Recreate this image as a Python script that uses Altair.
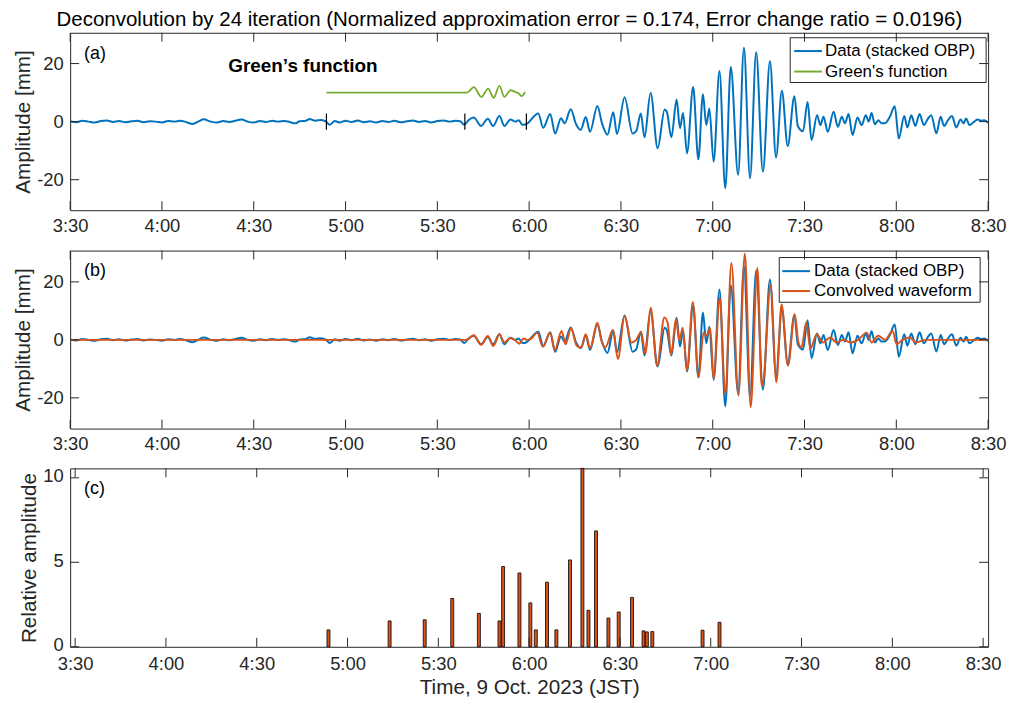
import altair as alt
import pandas as pd

FONT = "Liberation Sans"
BLUE = "#0072BD"
ORANGE = "#D95319"
GREEN = "#77AC30"
INK = "#262626"

# time axis: minutes after midnight, 9 Oct. 2023 (JST)
x_ticks = [210, 240, 270, 300, 330, 360, 390, 420, 450, 480, 510]
amp_ticks = [-20, 0, 20]
rel_ticks = [0, 5, 10]

# Data (stacked OBP), amplitude in mm
data_t = [210, 212, 214, 216, 218, 220, 222, 224, 226, 228, 230, 232, 234, 236, 238, 240,
          242, 244, 246, 248, 250, 252, 253.6, 256, 258, 260, 262, 264, 266, 268, 270, 272,
          274, 276, 278, 280, 282, 283.5, 285, 287, 288.3, 290, 292, 293.7, 294.8, 296.5,
          298, 300, 302, 304, 306, 308, 310, 312, 314, 316, 318, 320, 322, 324, 326, 328,
          330, 332, 334, 336, 337.5, 338.8,
          340.2, 341.9, 344.3, 346.5, 348.2, 350.3, 351.9, 353.9, 355.5, 356.6, 357.8, 359.0,
          363.0, 364.6, 366.9, 368.5, 370.4, 371.6, 373.6, 375.3, 376.9, 378.5, 379.9, 382.3,
          383.8, 385.6, 387.5, 388.7, 391.2, 393.8, 395.0, 396.5, 397.7, 399.7, 402.0, 404.3,
          405.0, 406.5, 408.2, 409.3, 410.3, 411.6, 413.6, 415.3, 416.8, 417.9, 418.9, 420.3,
          422.2, 424.1, 425.9, 428.3, 430.2, 432.2, 434.2, 436.4, 438.7, 440.7, 442.6, 444.5,
          446.7, 447.8, 449.5, 451.0, 452.3, 454.1, 455.2, 456.2, 457.6, 459.5, 460.9, 462.2,
          463.2, 464.4, 465.7, 467.3, 468.7, 470.0, 471.0, 471.9, 473.0, 474.1, 475.2, 476.2,
          477.9, 479.5, 480.8, 482.6, 483.6, 484.9, 486.2, 487.6, 489.0, 490.4, 491.4, 493.1,
          494.5, 495.6, 496.9, 498.2, 499.6, 501.0, 502.0, 502.8, 503.9, 505.5, 506.6, 507.7,
          508.8, 510.0]
data_v = [0.1, -0.2, 0.3, 0.0, -0.3, 0.2, 0.4, -0.1, 0.2, -0.2, 0.1, 0.3, -0.2, 0.1, 0.0, -0.3,
          0.2, 0.0, 0.3, -0.2, -0.8, 0.1, 0.8, 0.0, -0.3, 0.2, -0.1, 0.3, 0.7, 0.0, -0.3, 0.2,
          -0.1, 0.3, 0.0, 0.2, -0.2, -0.6, 0.1, 0.3, 0.9, 0.3, 0.6, 0.0, -1.1, 0.2,
          -0.3, 0.3, -0.1, 0.4, -0.2, 0.1, -0.3, 0.2, -0.1, 0.3, -0.2, 0.1, 0.4, -0.1, 0.2, -0.3,
          0.2, 0.4, 0.0, 0.3, 0.1, -1.1,
          0.5, 1.4, -1.5, 1.0, -1.5, 1.9, -1.5, 0.7, 0.0, 0.5, -1.1, -0.9,
          2.8, -2.1, 2.6, -4.1, 1.2, -0.6, 4.3, -0.8, -2.8, 1.6, -3.5, 5.4,
          -0.5, -4.5, 3.2, -4.3, 8.4, -4.1, -3.3, 2.8, -5.4, 9.9, -9.2, 4.2,
          3.4, -5.4, 7.6, -2.3, 3.0, -10.9, 11.9, -13.0, 9.4, -1.2, 4.5, -13.8,
          17.4, -22.9, 18.8, -18.3, 25.4, -19.5, 23.9, -17.2, 20.8, -12.3, 10.6, -8.4,
          8.7, -1.5, -3.3, 6.8, -6.3, 2.2, -1.2, 1.7, -3.5, 3.4, -1.8, 1.7,
          -0.6, 2.6, -4.6, 1.4, -1.2, 2.2, 0.0, 3.0, -0.9, 0.5, -0.6, -0.6,
          1.7, 5.3, -5.8, 1.9, -2.0, 2.2, -1.5, 2.6, -1.2, 1.1, 2.2, -4.0,
          1.7, -1.5, 0.5, 1.9, -2.0, 0.7, -0.6, 1.1, -1.2, 0.0, 0.7, 0.3,
          0.5, -0.4]

# Green's function (drawn with a +10 mm offset)
green_t = [293.75, 339.5, 340.3, 341.9, 344.4, 346.6, 348.4, 350.3, 351.9, 353.9, 355.5,
           356.6, 357.5, 358.7]
green_v = [10.0, 10.0, 10.4, 11.9, 8.5, 11.4, 8.2, 12.3, 8.5, 10.8, 10.2, 9.7, 8.8, 10.2]

# markers on the data trace in panel (a)
marker_t = [293.75, 339.0, 359.1]

# Convolved waveform
conv_t = [210, 339.3, 340.0, 341.9, 344.3, 346.5, 348.3, 350.3, 351.9, 353.7, 355.3, 356.8,
          358.2, 359.3, 360.9, 362.6, 364.5, 366.9, 368.4, 370.6, 371.9, 373.7, 375.6, 377.1,
          378.5, 379.9, 382.3, 383.6, 384.9, 387.4, 389.0, 391.2, 393.4, 395.0, 396.6, 398.0,
          399.7, 401.8, 404.2, 405.3, 406.4, 408.0, 409.1, 410.2, 411.6, 413.5, 415.4, 417.0,
          417.9, 419.2, 420.3, 422.3, 424.1, 426.1, 428.4, 430.5, 432.4, 434.6, 436.0, 436.7,
          438.9, 440.8, 442.5, 444.6, 446.8, 448.0, 449.0, 450.6, 451.9, 454.0, 456.0, 458.4,
          460.5, 462.7, 465.0, 467.7, 470.3, 471.9, 474.1, 476.3, 478.8, 480.1, 482.0, 484.4,
          486.5, 489.5, 510]
conv_v = [0.0, 0.0, 0.2, 1.6, -1.7, 1.3, -2.1, 1.9, -0.9, 0.6, 0.0, -1.3,
          0.5, 0.0, 0.6, 2.5, -2.4, 2.5, -3.6, 3.1, -1.5, 4.0, -2.1, -2.6,
          1.9, -2.9, 5.9, -0.2, -2.6, 3.4, -6.6, 8.2, -0.9, 0.0, 2.7, -4.9,
          11.1, -8.9, 7.7, 5.7, -5.1, 7.1, -0.3, 4.2, -10.6, 13.1, -12.9, 2.5,
          1.4, 4.0, -13.5, 14.5, -18.6, 26.5, -19.2, 29.8, -23.2, 24.8, -15.8, -13.0,
          19.1, -14.6, 12.2, -8.9, 8.8, -0.9, -2.6, 6.1, -3.0, 1.9, -0.9, 0.8,
          -0.9, 0.0, -0.9, 0.2, 2.5, -0.9, 1.4, 0.0, 3.1, -1.5, 0.0, 0.8,
          -0.9, 0.0, 0.0]

# Deconvolved source time function (relative amplitude)
stem_t = [293.7, 313.9, 325.5, 334.6, 343.4, 350.2, 351.4, 356.8, 360.4, 362.2, 365.9, 369.0,
          373.5, 377.6, 379.6, 382.1, 386.2, 389.6, 394.0, 397.8, 398.9, 400.7, 417.3, 422.9]
stem_v = [1.0, 1.53, 1.6, 2.86, 1.98, 1.53, 4.75, 4.37, 2.6, 1.0, 3.82, 1.0,
          5.14, 10.56, 2.16, 6.86, 1.7, 2.06, 2.92, 0.94, 0.88, 0.9, 0.98, 1.45]

legend_a_labels = ["Data (stacked OBP)", "Green's function"]
legend_a_colors = [BLUE, GREEN]
legend_b_labels = ["Data (stacked OBP)", "Convolved waveform"]
legend_b_colors = [BLUE, ORANGE]

W = 923
HA, HB, HC = 178.4, 179, 179.4
TL = 9  # inside tick length
LAB = 18.5
TIT = 20.8

LABEL_EXPR = "floor(datum.value / 60) + ':' + (datum.value % 60 < 10 ? '0' : '') + (datum.value % 60)"
YLABEL_EXPR = "(datum.value < 0 ? '-' : '') + abs(datum.value)"
ONE = pd.DataFrame({"k": [0]})


def xenc(title=None, pad=6, tpad=6):
    return alt.X("t:Q", scale=alt.Scale(domain=[210, 510], nice=False, zero=False),
                 axis=alt.Axis(values=x_ticks, labelExpr=LABEL_EXPR, ticks=False, tickSize=0,
                               domain=False, grid=False, labelFlush=False, labelOverlap=False,
                               labelPadding=pad, title=title, titlePadding=tpad))


def yenc(domain, ticks, title, loff=0):
    return alt.Y("v:Q", scale=alt.Scale(domain=domain, nice=False, zero=False),
                 axis=alt.Axis(values=ticks, labelExpr=YLABEL_EXPR, ticks=False, tickSize=0,
                               domain=False, grid=False, labelPadding=7, title=title,
                               titlePadding=3, labelOffset=loff))


def tick_layers(X, Y, yticks, H):
    xt = pd.DataFrame({"t": x_ticks})
    yt = pd.DataFrame({"v": yticks})
    r = dict(color=INK, strokeWidth=1)
    return [
        alt.Chart(xt).mark_rule(**r).encode(x=X, y=alt.value(H), y2=alt.value(H - TL)),
        alt.Chart(xt).mark_rule(**r).encode(x=X, y=alt.value(0), y2=alt.value(TL)),
        alt.Chart(yt).mark_rule(**r).encode(y=Y, x=alt.value(0), x2=alt.value(TL)),
        alt.Chart(yt).mark_rule(**r).encode(y=Y, x=alt.value(W - TL), x2=alt.value(W)),
    ]


def panel_label(txt):
    return alt.Chart(pd.DataFrame({"s": [txt]})).mark_text(
        align="left", baseline="middle", fontSize=18, font=FONT, color="black"
    ).encode(x=alt.value(14), y=alt.value(21), text="s:N")


def legend_layers(labels, colors, box, line_x, text_x, rows):
    x0, x1, y0, y1 = box
    layers = [alt.Chart(ONE).mark_rect(fill="white", stroke=INK, strokeWidth=1).encode(
        x=alt.value(x0), x2=alt.value(x1), y=alt.value(y0), y2=alt.value(y1))]
    for lab, col, ry in zip(labels, colors, rows):
        layers.append(alt.Chart(ONE).mark_rule(color=col, strokeWidth=2).encode(
            x=alt.value(line_x[0]), x2=alt.value(line_x[1]), y=alt.value(ry)))
        layers.append(alt.Chart(pd.DataFrame({"s": [lab]})).mark_text(
            align="left", baseline="middle", fontSize=17, font=FONT, color="black").encode(
            x=alt.value(text_x), y=alt.value(ry), text="s:N"))
    return layers


df_data = pd.DataFrame({"t": data_t, "v": data_v})
df_green = pd.DataFrame({"t": green_t, "v": green_v})
df_conv = pd.DataFrame({"t": conv_t, "v": conv_v})
df_mark = pd.DataFrame({"t": marker_t})
df_stem = pd.DataFrame({"t": stem_t, "v": stem_v})

# ---- panel (a)
Xa = xenc()
Ya = yenc([-30.5, 30.6], amp_ticks, "Amplitude [mm]")
pa = alt.layer(
    alt.Chart(df_data).mark_line(color=BLUE, strokeWidth=2, interpolate="monotone", clip=True).encode(
        x=Xa, y=Ya),
    alt.Chart(df_green).mark_line(color=GREEN, strokeWidth=1.8, interpolate="monotone", clip=True).encode(
        x=Xa, y=Ya),
    alt.Chart(df_mark).mark_rule(color="black", strokeWidth=1.2).encode(
        x=Xa, y=alt.datum(-2.8), y2=alt.datum(2.8)),
    panel_label("(a)"),
    alt.Chart(pd.DataFrame({"s": ["Green’s function"]})).mark_text(
        align="left", baseline="middle", fontSize=19, fontWeight="bold", font=FONT,
        color="black").encode(x=alt.value(159), y=alt.value(33), text="s:N"),
    *legend_layers(legend_a_labels, legend_a_colors, (724, 921, 5, 50), (728, 756), 759, (18.4, 39)),
    *tick_layers(Xa, Ya, amp_ticks, HA),
).properties(width=W, height=HA)

# ---- panel (b)
Xb = xenc()
Yb = yenc([-30.6, 30.8], amp_ticks, "Amplitude [mm]")
pb = alt.layer(
    alt.Chart(df_data).mark_line(color=BLUE, strokeWidth=2, interpolate="monotone", clip=True).encode(
        x=Xb, y=Yb),
    alt.Chart(df_conv).mark_line(color=ORANGE, strokeWidth=2, interpolate="monotone", clip=True).encode(
        x=Xb, y=Yb),
    panel_label("(b)"),
    *legend_layers(legend_b_labels, legend_b_colors, (713, 915, 7, 52), (716, 744), 748, (20.7, 40.7)),
    *tick_layers(Xb, Yb, amp_ticks, HB),
).properties(width=W, height=HB)

# ---- panel (c)
Xc = xenc("Time, 9 Oct. 2023 (JST)", pad=8, tpad=4)
Yc = yenc([0, 10.56], rel_ticks, "Relative amplitude", loff=-2)
pc = alt.layer(
    alt.Chart(df_stem).mark_bar(size=3, color=ORANGE, stroke="black", strokeWidth=0.8,
                                orient="vertical").encode(x=Xc, y=Yc),
    panel_label("(c)"),
    *tick_layers(Xc, Yc, rel_ticks, HC),
).properties(width=W, height=HC)

chart = alt.vconcat(pa, pb, pc, spacing=40, bounds="flush").properties(
    title=alt.Title("Deconvolution by 24 iteration (Normalized approximation error = 0.174, "
                    "Error change ratio = 0.0196)",
                    fontSize=20.6, fontWeight="normal", font=FONT, color="black",
                    anchor="middle", offset=1),
    padding={"left": 3.5, "top": 0, "right": 0, "bottom": 0},
).configure_view(stroke=INK, strokeWidth=1).configure_axis(
    labelFont=FONT, titleFont=FONT, labelFontSize=LAB, titleFontSize=TIT,
    titleFontWeight="normal", labelColor=INK, titleColor=INK)

chart.save("out.html", embed_options={"renderer": "svg", "actions": False})
